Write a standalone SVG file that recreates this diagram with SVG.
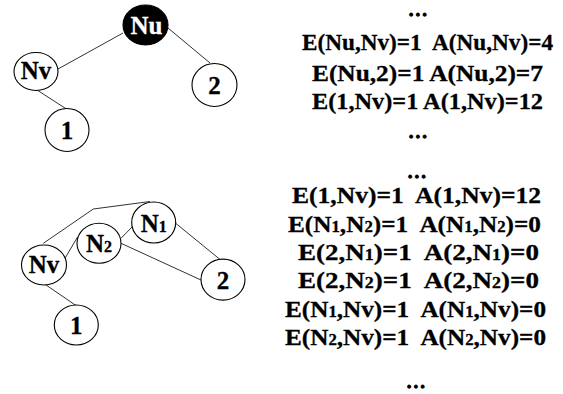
<svg xmlns="http://www.w3.org/2000/svg" width="563" height="394" viewBox="0 0 563 394">
<style>
.node{fill:#fff;stroke:#000;stroke-width:1.1}
.dark{fill:#000;stroke:#000;stroke-width:1.1}
.lbl{font-family:"Liberation Serif","Times New Roman",serif;font-weight:bold;font-size:25px;text-anchor:middle;fill:#000;stroke:#000;stroke-width:0.3}
.wl{fill:#fff;stroke:#fff}
.edge{stroke:#333;stroke-width:1;fill:none}
.eq{font-family:"Liberation Serif","Times New Roman",serif;font-weight:bold;font-size:24px;fill:#000;stroke:#000;stroke-width:0.3}
.dots{font-family:"Liberation Serif","Times New Roman",serif;font-weight:bold;font-size:17px;letter-spacing:2.5px;fill:#000;stroke:#000;stroke-width:1.3;text-anchor:middle}
.sub{font-size:16px}
</style>
<rect width="563" height="394" fill="#fff"/>
<g id="connectors">
<line class="edge" x1="123" y1="33" x2="58" y2="69"/>
<line class="edge" x1="168" y1="28" x2="210" y2="63"/>
<line class="edge" x1="37" y1="90" x2="68" y2="110"/>
<polyline class="edge" points="43.3,243.3 93.3,209 150,201.5"/>
<line class="edge" x1="65" y1="258.3" x2="77.7" y2="236.7"/>
<line class="edge" x1="121" y1="238.3" x2="133.3" y2="225.7"/>
<line class="edge" x1="121" y1="243.3" x2="201" y2="280"/>
<line class="edge" x1="175.7" y1="223.3" x2="220.7" y2="260"/>
<line class="edge" x1="45" y1="284.3" x2="76.7" y2="306"/>
</g>
<g id="node-nu">
<ellipse class="dark" cx="145.5" cy="25" rx="22.5" ry="20"/>
<text class="lbl wl" x="146.5" y="33.5">Nu</text>
</g>
<g id="node-nv-top">
<ellipse class="node" cx="36" cy="71.5" rx="22" ry="19"/>
<text class="lbl" x="36" y="78.5">Nv</text>
</g>
<g id="node-2-top">
<ellipse class="node" cx="214.5" cy="85" rx="22.5" ry="21.5"/>
<text class="lbl" x="214.5" y="93.5">2</text>
</g>
<g id="node-1-top">
<ellipse class="node" cx="67" cy="130" rx="22" ry="21.5"/>
<text class="lbl" x="67" y="138.5">1</text>
</g>
<g id="node-nv-bottom">
<ellipse class="node" cx="44" cy="265" rx="22.5" ry="20"/>
<text class="lbl" x="44" y="272.5">Nv</text>
</g>
<g id="node-n2">
<ellipse class="node" cx="99" cy="243.3" rx="22" ry="20"/>
<text class="lbl" x="99" y="252">N<tspan class="sub">2</tspan></text>
</g>
<g id="node-n1">
<ellipse class="node" cx="153.7" cy="222.5" rx="22" ry="20.5"/>
<text class="lbl" x="153.7" y="231.5">N<tspan class="sub">1</tspan></text>
</g>
<g id="node-2-bottom">
<ellipse class="node" cx="223" cy="279.6" rx="22" ry="20.5"/>
<text class="lbl" x="223" y="288.5">2</text>
</g>
<g id="node-1-bottom">
<ellipse class="node" cx="76.3" cy="325" rx="22" ry="20"/>
<text class="lbl" x="76.3" y="333.5">1</text>
</g>
<g id="equations-top">
<text class="dots" x="419" y="15.5">...</text>
<text class="eq" x="302" y="49.5" textLength="251" lengthAdjust="spacingAndGlyphs" xml:space="preserve">E(Nu,Nv)=1  A(Nu,Nv)=4</text>
<text class="eq" x="312" y="80.5" textLength="231" lengthAdjust="spacingAndGlyphs">E(Nu,2)=1 A(Nu,2)=7</text>
<text class="eq" x="312" y="109" textLength="231" lengthAdjust="spacingAndGlyphs">E(1,Nv)=1 A(1,Nv)=12</text>
<text class="dots" x="419" y="137.5">...</text>
</g>
<g id="equations-bottom">
<text class="dots" x="418" y="177.5">...</text>
<text class="eq" x="292" y="203.3" textLength="249" lengthAdjust="spacingAndGlyphs" xml:space="preserve">E(1,Nv)=1  A(1,Nv)=12</text>
<text class="eq" x="288" y="231.7" textLength="253" lengthAdjust="spacingAndGlyphs" xml:space="preserve">E(N<tspan class="sub">1</tspan>,N<tspan class="sub">2</tspan>)=1  A(N<tspan class="sub">1</tspan>,N<tspan class="sub">2</tspan>)=0</text>
<text class="eq" x="298" y="260" textLength="241" lengthAdjust="spacingAndGlyphs" xml:space="preserve">E(2,N<tspan class="sub">1</tspan>)=1  A(2,N<tspan class="sub">1</tspan>)=0</text>
<text class="eq" x="298" y="288.3" textLength="241" lengthAdjust="spacingAndGlyphs" xml:space="preserve">E(2,N<tspan class="sub">2</tspan>)=1  A(2,N<tspan class="sub">2</tspan>)=0</text>
<text class="eq" x="285" y="316.7" textLength="261" lengthAdjust="spacingAndGlyphs" xml:space="preserve">E(N<tspan class="sub">1</tspan>,Nv)=1  A(N<tspan class="sub">1</tspan>,Nv)=0</text>
<text class="eq" x="285" y="345" textLength="261" lengthAdjust="spacingAndGlyphs" xml:space="preserve">E(N<tspan class="sub">2</tspan>,Nv)=1  A(N<tspan class="sub">2</tspan>,Nv)=0</text>
<text class="dots" x="417" y="387.5">...</text>
</g>
</svg>
